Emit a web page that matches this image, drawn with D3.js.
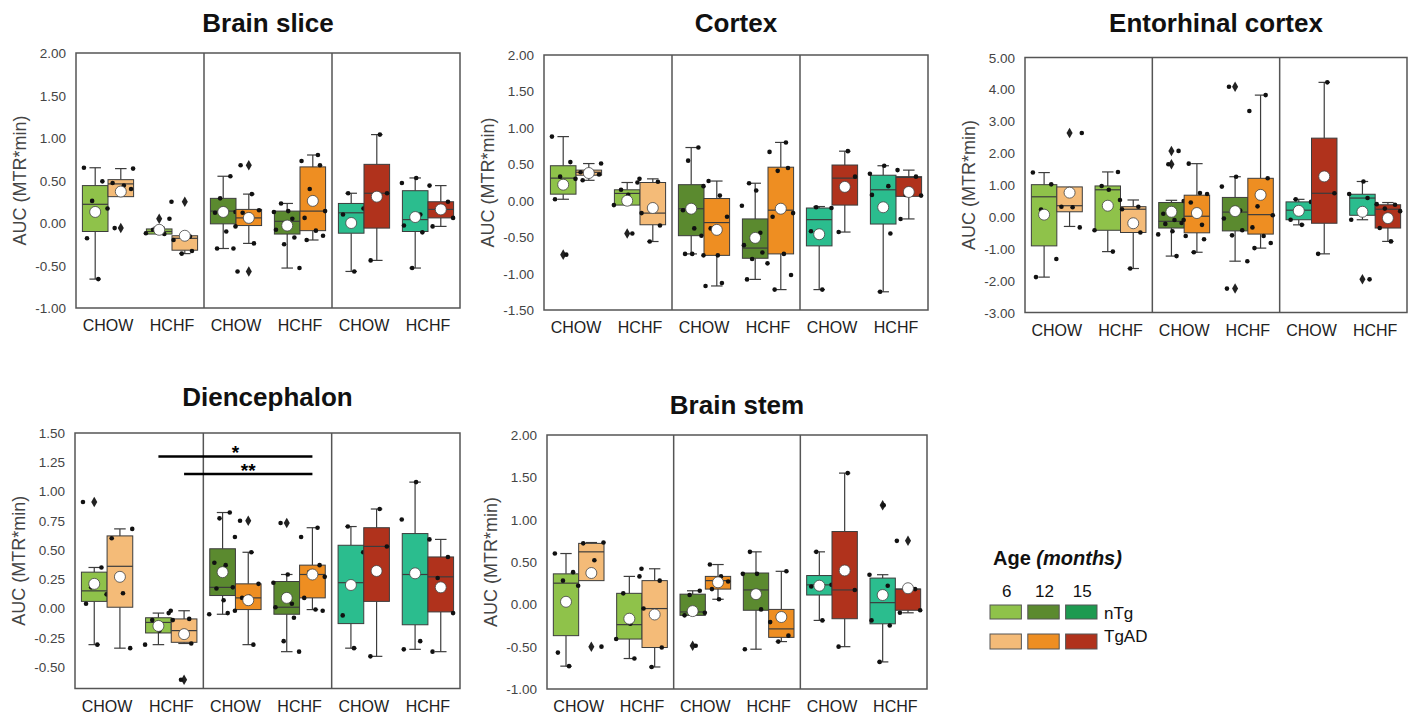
<!DOCTYPE html>
<html><head><meta charset="utf-8">
<script src="https://cdn.jsdelivr.net/npm/d3@7"></script>
<style>body{margin:0;background:#fff}text{font-family:"Liberation Sans",Arial,Helvetica,sans-serif}</style>
</head><body><svg id="c" width="1412" height="717"></svg>
<script>
// ---------- categories ----------
const ages = ["6","12","15"];
const diets = ["CHOW","HCHF"];
const genotypes = ["nTg","TgAD"];
const nTgColors = ["#8fc24a","#5b8a2f","#2bbd8e"];
const tgadColors = ["#f4bb78","#ee8e22","#b0321c"];
const legendNTgColors = ["#8fc24a","#5b8a2f","#1d9a50"];

// ---------- data: box order = age x diet x genotype ----------
// stats: [low whisker, Q1, median, Q3, high whisker, mean]
const brainSliceStats = [
 [-0.66,-0.10,0.22,0.44,0.65,0.13],[0.31,0.31,0.46,0.51,0.64,0.37],[-0.13,-0.13,-0.10,-0.07,-0.05,-0.08],[-0.36,-0.32,-0.18,-0.15,-0.15,-0.15],
 [-0.30,-0.01,0.14,0.29,0.55,0.13],[-0.24,-0.03,0.06,0.16,0.34,0.06],[-0.53,-0.13,0.02,0.14,0.23,-0.03],[-0.20,-0.09,0.14,0.66,0.80,0.26],
 [-0.57,-0.12,0.12,0.23,0.35,0.00],[-0.44,-0.06,0.35,0.69,1.04,0.31],[-0.53,-0.10,0.04,0.38,0.53,0.07],[-0.04,0.06,0.16,0.25,0.44,0.16]];
const brainSlicePoints = [
 [0.65,0.49,0.26,0.17,-0.18,-0.66],[0.64,0.47,0.44,0.40,-0.06],[0.05,-0.08,-0.10,-0.12,-0.13],[0.25,-0.16,-0.20,-0.33,-0.36],
 [0.55,0.29,0.13,0.12,-0.10,-0.30,-0.30],[0.68,0.34,0.15,0.12,0.03,-0.04,-0.24,-0.57],[0.23,0.14,0.13,0.05,-0.08,-0.17,-0.25,-0.53],[0.80,0.73,0.68,0.40,0.14,0.06,-0.09,-0.15,-0.20],
 [0.35,0.17,0.10,-0.57],[1.04,0.35,-0.44],[0.53,0.47,0.10,-0.03,-0.11,-0.53],[0.44,0.25,0.14,0.06,-0.04]];
const brainSliceOutliers = [[],[-0.06],[0.05],[0.25],[],[0.68,-0.57],[],[],[],[],[],[]];

const cortexStats = [
 [0.02,0.09,0.31,0.48,0.88,0.22],[0.28,0.35,0.39,0.42,0.51,0.38],[-0.06,-0.06,0.10,0.15,0.25,0.00],[-0.56,-0.33,-0.17,0.25,0.30,-0.10],
 [-0.73,-0.48,-0.11,0.22,0.73,-0.11],[-1.17,-0.75,-0.30,0.03,0.27,-0.40],[-1.08,-0.79,-0.65,-0.25,0.24,-0.51],[-1.22,-0.73,-0.13,0.46,0.80,-0.11],
 [-1.22,-0.62,-0.26,-0.10,-0.08,-0.46],[-0.43,-0.06,0.31,0.49,0.68,0.19],[-1.25,-0.32,0.15,0.35,0.48,-0.09],[-0.25,0.06,0.32,0.33,0.42,0.12]];
const cortexPoints = [
 [0.88,0.53,0.33,0.30,0.02,-0.74],[0.51,0.39,0.38,0.36,0.28],[0.25,0.15,0.08,-0.06,-0.45],[0.30,0.26,-0.17,-0.34,-0.56],
 [0.73,0.55,0.20,-0.13,-0.38,-0.48,-0.73,-0.73],[0.27,0.07,-0.22,-0.38,-0.75,-0.75,-1.13,-1.17],[0.24,0.14,-0.07,-0.44,-0.61,-0.71,-0.80,-0.86,-1.08],[0.80,0.67,0.45,0.41,-0.17,-0.22,-0.73,-1.02,-1.22],
 [-0.09,-0.10,-0.42,-1.22],[0.68,0.33,-0.43],[0.48,0.37,0.20,0.08,-0.45,-1.25],[0.42,0.33,0.08,0.07,-0.25]];
const cortexOutliers = [[-0.74],[],[-0.45],[],[],[],[],[],[],[],[],[]];

const entorhinalStats = [
 [-1.89,-0.91,0.63,1.01,1.39,0.07],[-0.30,0.16,0.35,0.94,0.94,0.76],[-1.09,-0.42,0.85,0.97,1.41,0.35],[-1.62,-0.49,0.24,0.32,0.53,-0.20],
 [-1.23,-0.35,-0.14,0.45,0.52,0.16],[-1.11,-0.50,0.02,0.68,1.67,0.12],[-1.39,-0.44,0.15,0.61,1.26,0.18],[-0.98,-0.54,0.07,1.21,3.82,0.69],
 [-0.25,-0.09,0.21,0.47,0.55,0.19],[-1.16,-0.20,0.74,2.47,4.22,1.27],[-0.09,0.05,0.59,0.71,1.11,0.16],[-0.77,-0.35,0.24,0.38,0.45,-0.04]];
const entorhinalPoints = [
 [1.39,1.02,0.23,-1.32,-1.89],[2.63,0.32,0.30,-0.33],[1.41,0.97,0.85,-0.42,-1.09],[0.53,0.32,0.24,-0.49,-1.62],
 [2.07,1.65,0.50,0.10,-0.10,-0.19,-0.22,-0.45,-0.55,-1.23],[1.67,0.75,0.72,0.45,0.08,-0.10,-0.25,-0.60,-0.70,-1.11],[4.08,1.26,0.95,0.20,-0.05,-0.42,-0.58,-1.39,-2.25],[3.82,3.32,1.21,0.33,0.05,-0.33,-0.60,-0.82,-0.98],
 [0.55,0.47,-0.09,-0.25],[4.22,0.74,-1.16],[1.11,0.72,0.59,-0.09,-1.96],[0.40,0.38,0.26,0.18,-0.35,-0.77]];
const entorhinalOutliers = [[],[2.63],[],[],[2.07,1.65],[],[4.08,-2.25],[],[],[],[-1.96],[]];

const diencephalonStats = [
 [-0.31,0.06,0.15,0.31,0.35,0.21],[-0.34,0.01,0.36,0.62,0.68,0.27],[-0.31,-0.21,-0.12,-0.08,-0.04,-0.15],[-0.30,-0.29,-0.19,-0.09,-0.02,-0.22],
 [-0.05,0.11,0.18,0.51,0.82,0.31],[-0.31,-0.01,0.09,0.21,0.48,0.07],[-0.37,-0.05,0.01,0.23,0.29,0.09],[-0.01,0.09,0.29,0.37,0.69,0.29],
 [-0.34,-0.13,0.22,0.54,0.70,0.20],[-0.41,0.06,0.53,0.69,0.85,0.32],[-0.35,-0.14,0.29,0.64,1.08,0.30],[-0.37,-0.03,0.27,0.44,0.59,0.18]];
const diencephalonPoints = [
 [0.91,0.35,0.18,0.12,0.04,-0.31],[0.68,0.60,0.13,-0.34],[-0.04,-0.10,-0.19,-0.31],[-0.02,-0.09,-0.10,-0.30,-0.61],
 [0.82,0.77,0.61,0.39,0.37,0.18,0.17,0.07,-0.05,-0.04],[0.75,0.48,0.21,0.09,0.10,-0.02,-0.31],[0.73,0.29,0.22,0.04,0.01,-0.08,-0.28,-0.37],[0.69,0.61,0.37,0.31,0.27,0.09,-0.01,-0.02],
 [0.70,0.48,-0.06,-0.34],[0.85,0.53,-0.41],[1.08,0.76,-0.28,-0.35],[0.59,0.44,0.26,-0.04,-0.37]];
const diencephalonOutliers = [[0.91],[],[],[-0.61],[],[0.75],[0.73],[],[],[],[],[]];
// significance: [from box, to box, bar level, label]
const diencephalonSig = [[2,7,1.30,"*"],[3,7,1.15,"**"]];

const brainStemStats = [
 [-0.73,-0.37,0.25,0.36,0.60,0.03],[0.28,0.28,0.62,0.72,0.73,0.37],[-0.64,-0.41,-0.24,0.13,0.33,-0.17],[-0.74,-0.51,-0.05,0.28,0.42,-0.12],
 [-0.13,-0.13,-0.09,0.12,0.16,-0.08],[0.06,0.18,0.28,0.33,0.47,0.26],[-0.53,-0.07,0.17,0.37,0.62,0.12],[-0.44,-0.39,-0.29,-0.06,0.39,-0.15],
 [-0.19,0.11,0.23,0.34,0.62,0.22],[-0.50,-0.17,0.17,0.86,1.55,0.40],[-0.68,-0.23,0.02,0.31,0.35,0.11],[-0.10,-0.07,0.18,0.18,0.18,0.19]];
const brainStemPoints = [
 [0.60,0.38,0.28,0.22,-0.57,-0.73],[0.73,0.72,0.52,-0.50],[0.33,0.13,-0.23,-0.41,-0.64],[0.42,0.28,-0.05,-0.51,-0.74],
 [0.16,0.11,-0.10,-0.13,-0.49],[0.47,0.33,0.27,0.18,0.06],[0.62,0.36,0.36,-0.06,-0.53],[0.39,-0.21,-0.37,-0.44],
 [0.62,0.23,0.21,-0.19],[1.55,0.17,-0.50],[1.17,0.35,0.22,-0.19,-0.25,-0.68],[0.75,0.18,0.18,-0.07,-0.10]];
const brainStemOutliers = [[],[-0.50],[],[],[-0.49],[],[],[],[],[],[1.17],[0.75]];

const brainSliceTicks = [-1,-0.5,0,0.5,1,1.5,2];
const cortexTicks = [-1.5,-1,-0.5,0,0.5,1,1.5,2];
const entorhinalTicks = [-3,-2,-1,0,1,2,3,4,5];
const diencephalonTicks = [-0.5,-0.25,0,0.25,0.5,0.75,1,1.25,1.5];
const brainStemTicks = [-1,-0.5,0,0.5,1,1.5,2];

// ---------- layout ----------
const panels = [
 {title:"Brain slice", stats:brainSliceStats, points:brainSlicePoints, outliers:brainSliceOutliers, ticks:brainSliceTicks, domain:[-1,2], x0:76, x1:460, y0:53, y1:308, ty:32},
 {title:"Cortex", stats:cortexStats, points:cortexPoints, outliers:cortexOutliers, ticks:cortexTicks, domain:[-1.5,2], x0:544, x1:928, y0:55, y1:310, ty:32},
 {title:"Entorhinal cortex", stats:entorhinalStats, points:entorhinalPoints, outliers:entorhinalOutliers, ticks:entorhinalTicks, domain:[-3,5], x0:1025, x1:1407, y0:57.5, y1:312.5, ty:32},
 {title:"Diencephalon", stats:diencephalonStats, points:diencephalonPoints, outliers:diencephalonOutliers, ticks:diencephalonTicks, domain:[-0.685,1.5], x0:75, x1:460, y0:433, y1:688.5, ty:406, sig:diencephalonSig},
 {title:"Brain stem", stats:brainStemStats, points:brainStemPoints, outliers:brainStemOutliers, ticks:brainStemTicks, domain:[-1,2], x0:547, x1:927, y0:435, y1:689, ty:414}
];
const jitter = [-0.55,0.35,-0.15,0.6,-0.4,0.15,0.5,-0.3,0.05,-0.65,0.25];

const svg = d3.select("#c");
svg.append("rect").attr("width",1412).attr("height",717).attr("fill","#fff");

panels.forEach(p => {
  const g = svg.append("g");
  const y = d3.scaleLinear().domain(p.domain).range([p.y1, p.y0]);
  const keys = ages.flatMap(a => diets.map(d => a + "|" + d));
  const x = d3.scaleBand().domain(keys).range([p.x0, p.x1]);
  const xi = d3.scaleBand().domain(genotypes).range([0, x.bandwidth()]).paddingOuter(0.25);
  const bw = xi.bandwidth();
  const cxOf = i => {
    const a = ages[Math.floor(i/4)], d = diets[Math.floor(i/2)%2], gt = genotypes[i%2];
    return x(a+"|"+d) + xi(gt) + bw/2;
  };

  g.append("text").attr("x",(p.x0+p.x1)/2).attr("y",p.ty).attr("text-anchor","middle")
   .attr("font-size",26).attr("font-weight","bold").attr("fill","#111").text(p.title);
  g.append("text").attr("transform",`translate(${p.x0-50},${(p.y0+p.y1)/2}) rotate(-90)`)
   .attr("text-anchor","middle").attr("font-size",18).attr("fill","#444").text("AUC (MTR*min)");
  p.ticks.forEach(t => {
    g.append("text").attr("x",p.x0-10).attr("y",y(t)+5).attr("text-anchor","end")
     .attr("font-size",13.5).attr("fill","#444").text(t.toFixed(2));
  });
  keys.forEach(k => {
    g.append("text").attr("x",x(k)+x.bandwidth()/2).attr("y",p.y1+23).attr("text-anchor","middle")
     .attr("font-size",16).attr("fill","#222").text(k.split("|")[1]);
  });

  p.stats.forEach((s, i) => {
    const [lo,q1,med,q3,hi,mean] = s;
    const cx = cxOf(i);
    const ai = Math.floor(i/4), gi = i%2;
    const col = gi === 0 ? nTgColors[ai] : tgadColors[ai];
    const cap = bw*0.45;
    const st = "#3c3c3c";
    g.append("line").attr("x1",cx).attr("x2",cx).attr("y1",y(hi)).attr("y2",y(q3)).attr("stroke",st).attr("stroke-width",1.2);
    g.append("line").attr("x1",cx).attr("x2",cx).attr("y1",y(q1)).attr("y2",y(lo)).attr("stroke",st).attr("stroke-width",1.2);
    if (hi > q3) g.append("line").attr("x1",cx-cap/2).attr("x2",cx+cap/2).attr("y1",y(hi)).attr("y2",y(hi)).attr("stroke",st).attr("stroke-width",1.2);
    if (lo < q1) g.append("line").attr("x1",cx-cap/2).attr("x2",cx+cap/2).attr("y1",y(lo)).attr("y2",y(lo)).attr("stroke",st).attr("stroke-width",1.2);
    g.append("rect").attr("x",cx-bw/2).attr("y",y(q3)).attr("width",bw).attr("height",Math.max(1,y(q1)-y(q3)))
     .attr("fill",col).attr("stroke",st).attr("stroke-width",1);
    g.append("line").attr("x1",cx-bw/2).attr("x2",cx+bw/2).attr("y1",y(med)).attr("y2",y(med)).attr("stroke",st).attr("stroke-width",1.2);
    p.outliers[i].forEach(v => {
      g.append("path").attr("d",d3.symbol(d3.symbolDiamond).size(32)()).attr("transform",`translate(${cx},${y(v)})`).attr("fill","#222");
    });
    p.points[i].forEach((v, j) => {
      g.append("circle").attr("cx",cx + jitter[(j + i*3) % jitter.length]*bw*0.8).attr("cy",y(v)).attr("r",2.3).attr("fill","#111");
    });
    g.append("circle").attr("cx",cx).attr("cy",y(mean)).attr("r",5.5).attr("fill","#fff").attr("stroke","#444").attr("stroke-width",0.8);
  });

  g.append("rect").attr("x",p.x0).attr("y",p.y0).attr("width",p.x1-p.x0).attr("height",p.y1-p.y0)
   .attr("fill","none").attr("stroke","#555").attr("stroke-width",1.5);
  ages.slice(1).forEach(a => {
    const xx = x(a+"|CHOW");
    g.append("line").attr("x1",xx).attr("x2",xx).attr("y1",p.y0).attr("y2",p.y1).attr("stroke","#555").attr("stroke-width",1.5);
  });

  (p.sig || []).forEach(([a,b,lvl,lab]) => {
    const xa = cxOf(a), xb = cxOf(b);
    g.append("line").attr("x1",xa).attr("x2",xb).attr("y1",y(lvl)).attr("y2",y(lvl)).attr("stroke","#000").attr("stroke-width",2.5);
    g.append("text").attr("x",(xa+xb)/2).attr("y",y(lvl)+3).attr("text-anchor","middle")
     .attr("font-size",19).attr("font-weight","bold").attr("fill","#000").text(lab);
  });
});

// ---------- legend ----------
const lg = svg.append("g");
const lt = lg.append("text").attr("x",993).attr("y",565).attr("font-size",20).attr("font-weight","bold").attr("fill","#111");
lt.append("tspan").text("Age ");
lt.append("tspan").attr("font-style","italic").text("(months)");
const lx = d3.scaleBand().domain(ages).range([990,1097]).paddingInner(0.17);
ages.forEach((a, i) => {
  lg.append("text").attr("x",lx(a)+lx.bandwidth()/2+1).attr("y",597).attr("text-anchor","middle").attr("font-size",17).attr("fill","#111").text(a);
  lg.append("rect").attr("x",lx(a)).attr("y",605).attr("width",lx.bandwidth()).attr("height",14).attr("fill",legendNTgColors[i]).attr("stroke","#555").attr("stroke-width",1);
  lg.append("rect").attr("x",lx(a)).attr("y",634).attr("width",lx.bandwidth()).attr("height",15).attr("fill",tgadColors[i]).attr("stroke","#555").attr("stroke-width",1);
});
lg.append("text").attr("x",1104).attr("y",619).attr("font-size",17).attr("fill","#111").text(genotypes[0]);
lg.append("text").attr("x",1104).attr("y",642).attr("font-size",17).attr("fill","#111").text(genotypes[1]);
</script></body></html>
